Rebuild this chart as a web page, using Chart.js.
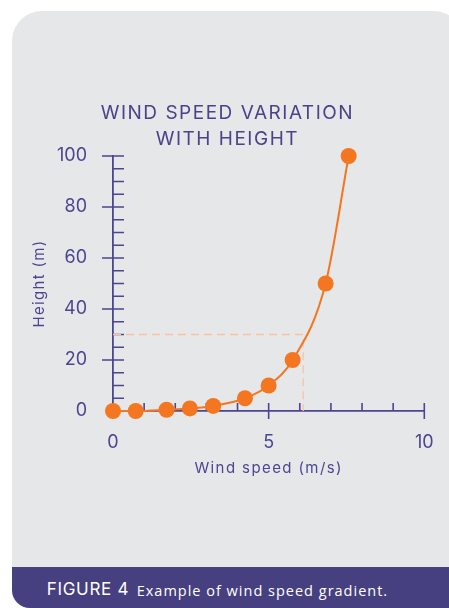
<!DOCTYPE html>
<html>
<head>
<meta charset="utf-8">
<script src="https://cdn.jsdelivr.net/npm/chart.js@4/dist/chart.umd.min.js"></script>
<style>
    html, body { margin: 0; padding: 0; background: #ffffff; }
    body { width: 449px; height: 608px; position: relative; overflow: hidden; }
    #card {
        position: absolute; left: 12px; top: 11px; width: 450px; height: 597px;
        background: #e6e7e9; border-radius: 30px 28px 0 18px; overflow: hidden;
    }
    #footer {
        position: absolute; left: 0; top: 556px; width: 100%; height: 41px;
        background: #463f80; color: #ffffff;
    }
    #footer span { position: absolute; line-height: 1; white-space: nowrap; }
    #footer span.fig { left: 34.7px; top: 12.3px; font: 17px Inter, sans-serif; letter-spacing: 0.7px; }
    #footer span.txt { left: 124.7px; top: 14.2px; font: 14.5px "Open Sans", sans-serif; letter-spacing: 1px; }
    #chartBox { position: absolute; left: 0; top: 0; width: 449px; height: 567px; }
</style>
</head>
<body>
<div id="card">
    <div id="footer"><span class="fig">FIGURE 4</span><span class="txt">Example of wind speed gradient.</span></div>
</div>
<div id="chartBox"><canvas id="windChart" width="449" height="567"></canvas></div>
<script>
// wind speed (m/s) vs height (m)
var windSpeed = [0, 0.73, 1.72, 2.47, 3.22, 4.24, 5.0, 5.77, 6.83, 7.57];
var heights = [0, 0, 0.5, 1, 2, 5, 10, 20, 50, 100];

// dashed guide: 30 m reached at about 6.1 m/s
var guideSpeed = [0, 6.11, 6.11];
var guideHeight = [30, 30, 0];

var xTicks = [0, 5, 10];
var yTicks = [0, 20, 40, 60, 80, 100];

var purple = '#4b4690';
var orange = '#f47621';

// small tick marks: long ones cross the axis, short ones only on the inside
var tickMarks = {
    id: 'tickMarks',
    beforeDatasetsDraw(chart) {
        var ctx = chart.ctx;
        var x = chart.scales.x, y = chart.scales.y;
        var x0 = x.getPixelForValue(0), y0 = y.getPixelForValue(0);
        ctx.save();
        ctx.strokeStyle = purple;
        ctx.lineWidth = 1.6;
        ctx.beginPath();
        for (var v = 5; v <= 100; v += 5) {
            var py = y.getPixelForValue(v);
            ctx.moveTo(yTicks.indexOf(v) >= 0 ? x0 - 11 : x0, py);
            ctx.lineTo(x0 + 11, py);
        }
        for (var u = 1; u <= 10; u++) {
            var px = x.getPixelForValue(u);
            ctx.moveTo(px, y0 - 8);
            ctx.lineTo(px, xTicks.indexOf(u) >= 0 ? y0 + 8 : y0);
        }
        ctx.stroke();
        ctx.restore();
    }
};

// the titles in the figure are set a bit wide
function spaced(obj, name, amount) {
    if (!obj || obj['_spaced_' + name]) return;
    var orig = obj[name].bind(obj);
    obj[name] = function () {
        var c = obj.ctx || obj.chart.ctx;
        c.save();
        c.letterSpacing = amount;
        orig.apply(null, arguments);
        c.restore();
    };
    obj['_spaced_' + name] = true;
}

var spacedTitles = {
    id: 'spacedTitles',
    beforeDraw(chart) {
        spaced(chart.titleBlock, 'draw', '1.5px');
        spaced(chart.scales.x, 'drawTitle', '1.4px');
        spaced(chart.scales.y, 'drawTitle', '1.3px');
    }
};

var ctx = document.getElementById('windChart').getContext('2d');

new Chart(ctx, {
    type: 'line',
    data: {
        datasets: [{
            data: windSpeed.map((s, i) => ({ x: s, y: heights[i] })),
            borderColor: orange,
            backgroundColor: orange,
            borderWidth: 2,
            pointRadius: 8,
            pointBorderWidth: 0,
            cubicInterpolationMode: 'monotone',
            clip: false,
            order: 1
        }, {
            data: guideSpeed.map((s, i) => ({ x: s, y: guideHeight[i] })),
            borderColor: '#f8c3a3',
            borderWidth: 1.3,
            borderDash: [8, 5],
            pointRadius: 0,
            clip: false,
            order: 2
        }]
    },
    options: {
        responsive: false,
        animation: false,
        layout: { padding: { top: 100, left: 30.5, right: 24.7, bottom: 0 } },
        plugins: {
            legend: { display: false },
            tooltip: { enabled: false },
            title: {
                display: true,
                text: ['WIND SPEED VARIATION', 'WITH HEIGHT'],
                color: '#4a4389',
                font: { family: 'Inter', size: 19, weight: 'normal', lineHeight: '26px' },
                padding: { top: 0, bottom: 4 }
            }
        },
        scales: {
            x: {
                type: 'linear',
                min: 0,
                max: 10,
                afterFit: function (scale) { scale.height = 156; },
                afterBuildTicks: function (scale) { scale.ticks = xTicks.map(v => ({ value: v })); },
                grid: { display: false },
                border: { color: purple, width: 1.8 },
                ticks: { color: purple, padding: 13, font: { family: 'Inter', size: 18 } },
                title: {
                    display: true,
                    text: 'Wind speed (m/s)',
                    color: purple,
                    font: { family: 'Inter', size: 15, lineHeight: 1.2 },
                    padding: { top: 0, bottom: 90 }
                }
            },
            y: {
                type: 'linear',
                min: 0,
                max: 100,
                afterFit: function (scale) { scale.width = 82.5; },
                afterBuildTicks: function (scale) { scale.ticks = yTicks.map(v => ({ value: v })); },
                grid: { display: false },
                border: { color: purple, width: 1.8 },
                ticks: { color: purple, padding: 18, font: { family: 'Inter', size: 18 } },
                title: {
                    display: true,
                    text: 'Height (m)',
                    color: purple,
                    font: { family: 'Inter', size: 15, lineHeight: 1.2 },
                    padding: { top: 0, bottom: 0 }
                }
            }
        }
    },
    plugins: [tickMarks, spacedTitles]
});
</script>
</body>
</html>
